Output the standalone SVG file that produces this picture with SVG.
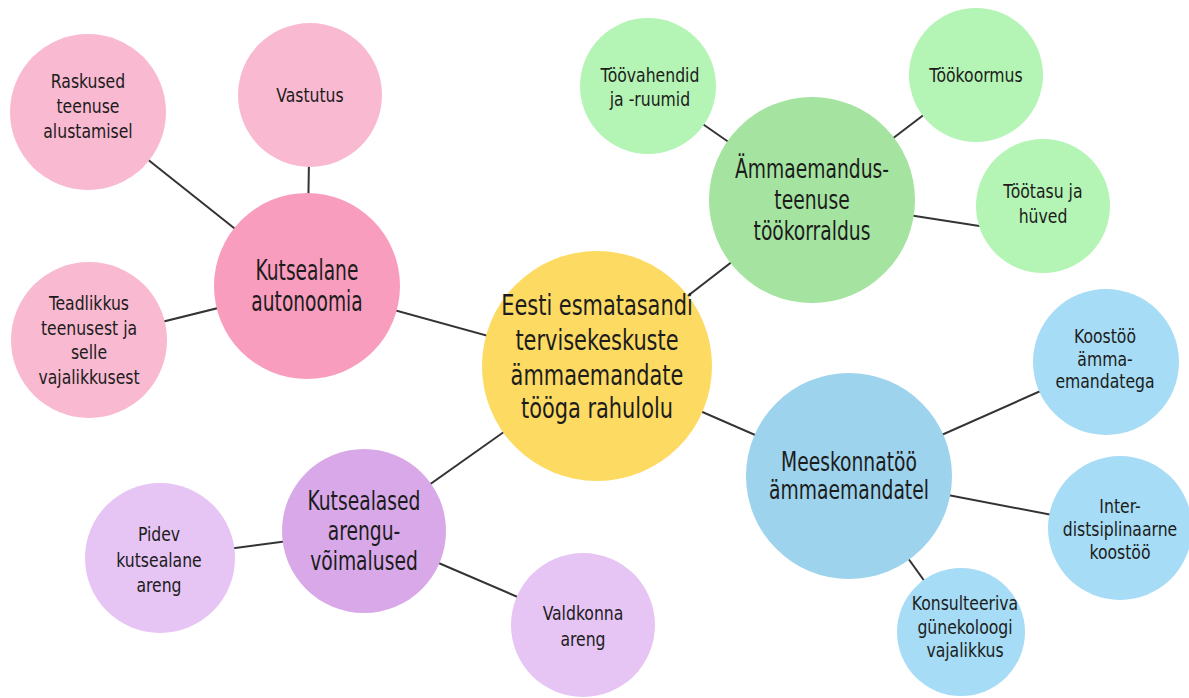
<svg xmlns="http://www.w3.org/2000/svg" width="1189" height="698" viewBox="0 0 1189 698">
<style>
text{font-family:"DejaVu Sans Condensed","Liberation Sans Narrow","Roboto",sans-serif;fill:#1c1c1c;text-anchor:middle;transform-box:fill-box;transform-origin:center}
.s{font-size:20px;transform:scaleX(0.87)}
.m{font-size:26px;transform:scaleX(0.8)}
.a{font-size:28px;transform:scaleX(0.74)}
.l{font-size:28px;transform:scaleX(0.83)}
.c line{stroke:#333;stroke-width:2}
</style>
<rect width="1189" height="698" fill="#fff"/>
<g id="connectors" class="c">
<line x1="597" y1="366" x2="307" y2="286"/>
<line x1="597" y1="366" x2="812" y2="200"/>
<line x1="597" y1="366" x2="849" y2="476"/>
<line x1="597" y1="366" x2="364" y2="531"/>
<line x1="307" y1="286" x2="88" y2="112"/>
<line x1="307" y1="286" x2="310" y2="95"/>
<line x1="307" y1="286" x2="89" y2="340"/>
<line x1="812" y1="200" x2="648" y2="86"/>
<line x1="812" y1="200" x2="976" y2="75"/>
<line x1="812" y1="200" x2="1043" y2="236"/>
<line x1="849" y1="476" x2="1106" y2="362"/>
<line x1="849" y1="476" x2="1120" y2="528"/>
<line x1="849" y1="476" x2="961" y2="632"/>
<line x1="364" y1="531" x2="160" y2="558"/>
<line x1="364" y1="531" x2="583" y2="625"/>
</g>
<g id="n-center"><circle cx="597" cy="366" r="115" fill="#FDDA62"/>
<text class="l" x="597" y="315">Eesti esmatasandi</text><text class="l" x="597" y="350">tervisekeskuste</text><text class="l" x="597" y="385">ämmaemandate</text><text class="l" x="597" y="418">tööga rahulolu</text></g>
<g id="n-autonoomia"><circle cx="307" cy="286" r="93" fill="#F99DBE"/>
<text class="a" x="307" y="280">Kutsealane</text><text class="a" x="307" y="311">autonoomia</text></g>
<g id="n-raskused"><circle cx="88" cy="112" r="78" fill="#F9B9D1"/>
<text class="s" x="88" y="88">Raskused</text><text class="s" x="88" y="113">teenuse</text><text class="s" x="88" y="138">alustamisel</text></g>
<g id="n-vastutus"><circle cx="310" cy="95" r="72" fill="#F9B9D1"/>
<text class="s" x="310" y="102">Vastutus</text></g>
<g id="n-teadlikkus"><circle cx="89" cy="340" r="78" fill="#F9B9D1"/>
<text class="s" x="89" y="310">Teadlikkus</text><text class="s" x="89" y="335">teenusest ja</text><text class="s" x="89" y="359">selle</text><text class="s" x="89" y="384">vajalikkusest</text></g>
<g id="n-tookorraldus"><circle cx="812" cy="200" r="103" fill="#A4E4A0"/>
<text class="m" x="812" y="178">Ämmaemandus-</text><text class="m" x="812" y="209">teenuse</text><text class="m" x="812" y="240">töökorraldus</text></g>
<g id="n-toovahendid"><circle cx="648" cy="86" r="68" fill="#B4F4B4"/>
<text class="s" x="650" y="82">Töövahendid</text><text class="s" x="650" y="106">ja -ruumid</text></g>
<g id="n-tookoormus"><circle cx="976" cy="75" r="67" fill="#B4F4B4"/>
<text class="s" x="976" y="82">Töökoormus</text></g>
<g id="n-tootasu"><circle cx="1043" cy="206" r="67" fill="#B4F4B4"/>
<text class="s" x="1043" y="198">Töötasu ja</text><text class="s" x="1043" y="223">hüved</text></g>
<g id="n-meeskonnatoo"><circle cx="849" cy="476" r="103" fill="#9DD3EC"/>
<text class="m" x="849" y="471">Meeskonnatöö</text><text class="m" x="849" y="499">ämmaemandatel</text></g>
<g id="n-koostoo"><circle cx="1106" cy="362" r="73" fill="#A6DCF5"/>
<text class="s" x="1105" y="343">Koostöö</text><text class="s" x="1105" y="366">ämma-</text><text class="s" x="1105" y="388">emandatega</text></g>
<g id="n-inter"><circle cx="1120" cy="528" r="72" fill="#A6DCF5"/>
<text class="s" x="1120" y="513">Inter-</text><text class="s" x="1120" y="536">distsiplinaarne</text><text class="s" x="1120" y="559">koostöö</text></g>
<g id="n-konsult"><circle cx="961" cy="632" r="64" fill="#A6DCF5"/>
<text class="s" x="965" y="610">Konsulteeriva</text><text class="s" x="965" y="634">günekoloogi</text><text class="s" x="965" y="657">vajalikkus</text></g>
<g id="n-arengu"><circle cx="364" cy="531" r="82" fill="#D8A8E8"/>
<text class="m" x="364" y="510">Kutsealased</text><text class="m" x="364" y="540">arengu-</text><text class="m" x="364" y="570">võimalused</text></g>
<g id="n-pidev"><circle cx="160" cy="558" r="75" fill="#E6C4F4"/>
<text class="s" x="159" y="541">Pidev</text><text class="s" x="159" y="567">kutsealane</text><text class="s" x="159" y="592">areng</text></g>
<g id="n-valdkonna"><circle cx="583" cy="625" r="72" fill="#E6C4F4"/>
<text class="s" x="583" y="620">Valdkonna</text><text class="s" x="583" y="646">areng</text></g>
</svg>
